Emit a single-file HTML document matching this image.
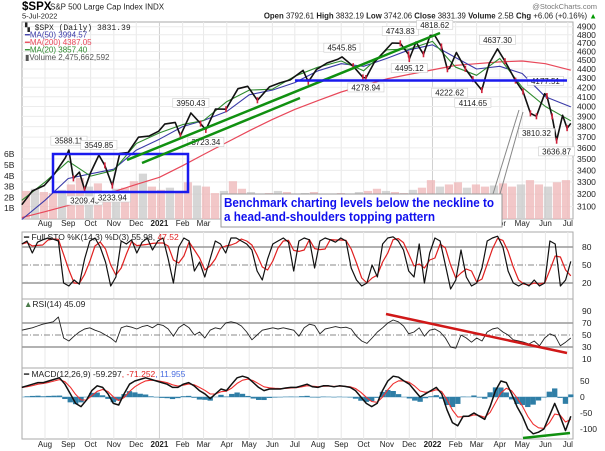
<!DOCTYPE html>
<html><head><meta charset="utf-8"><style>
html,body{margin:0;padding:0;background:#fff;}
svg{display:block;font-family:"Liberation Sans",sans-serif;}
</style></head><body>
<svg id="c" width="605" height="451" viewBox="0 0 605 451" xmlns="http://www.w3.org/2000/svg">
<rect x="0" y="0" width="605" height="451" fill="#fff"/>
<g>
<text x="22" y="10" font-size="11.5" font-weight="bold" fill="#000">$SPX</text>
<text x="50" y="9.5" font-size="8" fill="#222">S&amp;P 500 Large Cap Index  INDX</text>
<text x="22" y="18.5" font-size="7.5" fill="#222">5-Jul-2022</text>
<text x="597" y="9" font-size="7.5" fill="#777" text-anchor="end">@StockCharts.com</text>
<text x="597" y="18.5" font-size="7.8" fill="#222" text-anchor="end"><tspan font-weight="bold">Open</tspan> 3792.61  <tspan font-weight="bold">High</tspan> 3832.19  <tspan font-weight="bold">Low</tspan> 3742.06  <tspan font-weight="bold">Close</tspan> 3831.39  <tspan font-weight="bold">Volume</tspan> 2.5B  <tspan font-weight="bold">Chg</tspan> +6.06 (+0.16%) <tspan fill="#090">▲</tspan></text>
</g>
<g id="grid"></g>
<g id="vol"></g>
<g id="lines"></g>
<g id="axes"></g>
<g id="anno"></g>
</svg>
<script>
// ---------------- data ----------------
const priceDates = ["2020-07-01","2020-07-15","2020-07-31","2020-08-14","2020-08-28","2020-09-02","2020-09-08","2020-09-16","2020-09-23","2020-10-01","2020-10-12","2020-10-20","2020-10-30","2020-11-09","2020-11-20","2020-12-04","2020-12-18","2020-12-31","2021-01-08","2021-01-22","2021-01-29","2021-02-12","2021-02-25","2021-03-04","2021-03-17","2021-03-31","2021-04-16","2021-04-29","2021-05-12","2021-05-28","2021-06-11","2021-06-25","2021-07-12","2021-07-19","2021-07-30","2021-08-13","2021-08-27","2021-09-02","2021-09-17","2021-09-30","2021-10-04","2021-10-15","2021-10-29","2021-11-08","2021-11-19","2021-11-30","2021-12-01","2021-12-10","2021-12-20","2021-12-29","2022-01-04","2022-01-13","2022-01-21","2022-01-24","2022-02-02","2022-02-14","2022-02-24","2022-03-08","2022-03-18","2022-03-29","2022-04-08","2022-04-22","2022-05-02","2022-05-12","2022-05-20","2022-05-31","2022-06-03","2022-06-10","2022-06-16","2022-06-24","2022-06-30","2022-07-05"];
const priceClose = [3115,3226,3271,3372,3508,3580,3331,3385,3237,3380,3534,3443,3270,3550,3557,3699,3709,3756,3824,3841,3714,3934,3829,3768,3974,3972,4185,4211,4063,4204,4247,4280,4384,4258,4395,4468,4509,4537,4432,4307,4300,4471,4605,4701,4697,4567,4513,4712,4568,4793,4793,4659,4397,4410,4589,4401,4288,4170,4463,4631,4488,4272,4155,3930,3901,4132,4108,3900,3666,3911,3785,3831];
const maDates = ["2020-07-01","2020-08-01","2020-09-01","2020-10-01","2020-11-01","2020-12-01","2021-01-01","2021-02-01","2021-03-01","2021-04-01","2021-05-01","2021-06-01","2021-07-01","2021-08-01","2021-09-01","2021-10-01","2021-11-01","2021-12-01","2022-01-01","2022-02-01","2022-03-01","2022-04-01","2022-05-01","2022-06-01","2022-07-05"];
const ma200 = [3015,3060,3110,3150,3220,3280,3340,3440,3540,3650,3760,3870,3970,4060,4150,4220,4290,4340,4390,4440,4460,4480,4490,4460,4387];
const ma50 = [3000,3150,3330,3370,3410,3580,3680,3800,3860,3950,4120,4170,4250,4380,4460,4430,4520,4620,4680,4530,4400,4430,4350,4100,3995];
const ma20 = [3150,3300,3480,3350,3400,3640,3740,3820,3860,4050,4170,4180,4320,4420,4490,4380,4620,4630,4720,4420,4330,4520,4200,4000,3857];
const volumeB = [2.6,2.8,2.5,2.4,2.7,3.2,3.8,3.0,3.3,2.6,2.8,2.9,3.5,4.2,3.0,2.7,2.9,2.6,3.4,3.1,3.0,2.4,2.6,3.5,2.8,2.5,2.3,2.4,2.6,2.5,2.3,2.4,2.5,2.2,2.3,2.4,2.3,2.5,2.6,2.8,2.6,2.5,2.4,2.7,2.9,3.6,3.0,3.2,3.4,2.9,3.2,3.0,3.1,3.3,3.0,3.2,3.6,3.2,3.0,3.4,3.6];
const stochK = [85,90,70,88,92,95,93,90,20,15,25,18,60,90,95,80,55,15,30,90,85,92,70,88,95,75,90,95,60,20,80,95,90,40,55,30,60,90,85,70,95,95,90,85,75,40,25,60,85,90,95,88,40,90,95,92,45,90,95,92,88,95,90,45,25,15,20,50,30,85,95,97,90,75,40,30,85,20,70,95,90,50,10,25,75,30,15,20,45,90,95,98,80,40,20,15,20,15,25,15,20,90,85,15,25,56];
const rsi = [58,60,62,65,68,70,72,80,45,40,48,55,60,62,58,55,50,45,38,62,65,63,60,64,66,62,68,66,60,48,62,68,62,50,55,45,58,62,60,70,72,70,65,55,42,50,58,60,62,60,62,60,58,48,62,68,66,52,60,62,64,62,63,60,48,40,36,45,55,62,70,75,72,65,52,55,62,48,58,60,55,45,30,28,50,45,38,45,40,55,60,62,55,50,42,40,38,35,40,32,45,52,48,32,38,45];
const macd = [30,35,40,45,45,50,55,60,40,10,-20,-30,-10,20,35,30,10,-20,-25,10,40,50,55,60,55,50,45,40,30,30,40,45,35,20,10,-5,10,25,20,40,60,65,60,45,30,20,25,25,25,28,30,30,35,40,32,30,35,35,32,35,33,30,20,0,-20,-30,-20,20,50,65,62,50,40,20,0,10,20,30,10,-40,-80,-90,-60,-60,-50,-60,-70,-30,20,50,45,10,-30,-60,-100,-115,-110,-100,-60,-20,-60,-105,-60];
const yTicksPrice = [3100,3200,3300,3400,3500,3600,3700,3800,3900,4000,4100,4200,4300,4400,4500,4600,4700,4800,4900];
const yTicksVol = [1,2,3,4,5,6];
const monthLabels = ["Aug","Sep","Oct","Nov","Dec","2021","Feb","Mar","Apr","May","Jun","Jul","Aug","Sep","Oct","Nov","Dec","2022","Feb","Mar","Apr","May","Jun","Jul"];
const monthStarts = ["2020-08-01","2020-09-01","2020-10-01","2020-11-01","2020-12-01","2021-01-01","2021-02-01","2021-03-01","2021-04-01","2021-05-01","2021-06-01","2021-07-01","2021-08-01","2021-09-01","2021-10-01","2021-11-01","2021-12-01","2022-01-01","2022-02-01","2022-03-01","2022-04-01","2022-05-01","2022-06-01","2022-07-01"];
const pivotValues = ["3588.11","3549.85","3209.45","3233.94","3950.43","3723.34","4545.85","4278.94","4743.83","4818.62","4495.12","4222.62","4114.65","4637.30","4177.51","3810.32","3636.87"];
const pivotDates = ["2020-09-02","2020-10-12","2020-09-23","2020-10-30","2021-02-12","2021-03-04","2021-09-02","2021-10-04","2021-11-19","2022-01-04","2021-12-01","2022-01-24","2022-02-24","2022-03-29","2022-06-01","2022-05-20","2022-06-16"];
const pivotBelow = [0,0,1,1,0,1,0,1,0,0,1,1,1,0,0,1,1];

// ---------------- geometry ----------------
const NS="http://www.w3.org/2000/svg";
const L=22, R=573;
const base=Date.UTC(2020,6,1);
function day(s){const p=s.split("-");return (Date.UTC(+p[0],+p[1]-1,+p[2])-base)/86400000;}
function xD(d){return 45+(d-31)*0.748;}
function xS(s){return xD(day(s));}
const xStart=xS("2020-07-01"), xEnd=xS("2022-07-05");
function xIdx(i,n){return xStart+i*(xEnd-xStart)/(n-1);}
function yP(p){return 26.7+393*Math.log(4900/p);}
function yV(v){return 219-v*10.8;}
function yStoch(v){return 295-v*0.6;}
function yRsi(v){return 365-v*0.6;}
function yMacd(v){return 397-v*0.32;}
const panels=[{t:22,b:219,n:"price-panel"},{t:232,b:299,n:"stochastic-panel"},{t:299,b:368,n:"rsi-panel"},{t:368,b:439,n:"macd-panel"}];
function mk(tag,attrs,parent){const e=document.createElementNS(NS,tag);for(const k in attrs)e.setAttribute(k,attrs[k]);parent.appendChild(e);return e;}
const G=document.getElementById("grid"),V=document.getElementById("vol"),LN=document.getElementById("lines"),A=document.getElementById("anno"),AX=document.getElementById("axes");

panels.forEach(p=>{
  const r=mk("rect",{x:L,y:p.t,width:R-L,height:p.b-p.t,fill:"#fff",stroke:"#aaa","stroke-width":"1"},G);
  
  
  monthStarts.forEach(ms=>{const x=xS(ms);mk("line",{x1:x,x2:x,y1:p.t,y2:p.b,stroke:ms.endsWith("01-01")?"#cfcfcf":"#e8e8e8","stroke-width":"1"},G);});
});
yTicksPrice.forEach(v=>{
  const y=yP(v);
  mk("line",{x1:L,x2:R,y1:y,y2:y,stroke:"#ececec"},G);
  const t=mk("text",{x:577,y:y+3,"font-size":"8.5",fill:"#222"},AX);t.textContent=v;
  
  
});
yTicksVol.forEach(v=>{
  const t=mk("text",{x:4,y:yV(v)+3,"font-size":"8.5",fill:"#222"},AX);t.textContent=v+"B";
  
  
});
[223,444].forEach(yy=>{
  monthLabels.forEach((m,i)=>{
    const t=mk("text",{x:xS(monthStarts[i]),y:yy+3,"font-size":"8",fill:"#222","text-anchor":"middle","font-weight":m.length===4?"bold":"normal"},AX);
    t.textContent=m;
    
    
  });
});

const vw=(xEnd-xStart)/volumeB.length;
volumeB.forEach((v,i)=>{
  const x=xStart+i*vw;
  const b=mk("rect",{x:x,y:yV(v),width:vw-0.8,height:219-yV(v),fill:i%3===1?"#c8c8c8":"#eeb4b6",opacity:"0.75"},V);
  
  
});

function path(xs,ys,stroke,w,name,parent){
  let d="";xs.forEach((x,i)=>{d+=(i?"L":"M")+x.toFixed(1)+" "+ys[i].toFixed(1);});
  const p=mk("path",{d:d,fill:"none",stroke:stroke,"stroke-width":w,"stroke-linejoin":"round"},parent||LN);
  
  
  return p;
}
const maX=maDates.map(xS);
path(maX,ma200.map(yP),"#e8485a",1.2,"ma200-line");
path(maX,ma50.map(yP),"#3a3aa8",1.1,"ma50-line");
path(maX,ma20.map(yP),"#2e8b2e",1.1,"ma20-line");
const pX=priceDates.map(xS);
path(pX,priceClose.map(yP),"#111",1.6,"price-line");
priceClose.forEach((c,i)=>{ if(i>0&&c<priceClose[i-1]){
  const m=mk("line",{x1:pX[i],x2:pX[i],y1:yP(c)-3,y2:yP(c)+3,stroke:"#d0203a","stroke-width":"1.6"},LN);
  
  
}});

const sX=stochK.map((v,i)=>xIdx(i,stochK.length));
const stochD=stochK.map((v,i)=>{const a=stochK.slice(Math.max(0,i-2),i+1);return a.reduce((s,q)=>s+q,0)/a.length;});
[80,20].forEach(v=>mk("line",{x1:L,x2:R,y1:yStoch(v),y2:yStoch(v),stroke:"#999","stroke-width":"1.4"},G));
mk("line",{x1:L,x2:R,y1:yStoch(50),y2:yStoch(50),stroke:"#888","stroke-dasharray":"6 2 1 2"},G);
path(sX,stochD.map(yStoch),"#e02020",1.2,"stoch-d-line");
path(sX,stochK.map(yStoch),"#111",1.2,"stoch-k-line");
[80,50,20].forEach(v=>{const t=mk("text",{x:582,y:yStoch(v)+3,"font-size":"8.5",fill:"#222"},AX);t.textContent=v;
  
  });

const rX=rsi.map((v,i)=>xIdx(i,rsi.length));
[70,30].forEach(v=>mk("line",{x1:L,x2:R,y1:yRsi(v),y2:yRsi(v),stroke:"#999","stroke-width":"1.4"},G));
mk("line",{x1:L,x2:R,y1:yRsi(50),y2:yRsi(50),stroke:"#888","stroke-dasharray":"6 2 1 2"},G);
path(rX,rsi.map(yRsi),"#222",0.9,"rsi-line");
[90,70,50,30,10].forEach(v=>{const t=mk("text",{x:582,y:yRsi(v)+3,"font-size":"8.5",fill:"#222"},AX);t.textContent=v;
  
  });

const mX=macd.map((v,i)=>xIdx(i,macd.length));
const signal=[];macd.forEach((v,i)=>signal.push(i?signal[i-1]*0.55+v*0.45:v));
mk("line",{x1:L,x2:R,y1:yMacd(0),y2:yMacd(0),stroke:"#9cc3d8","stroke-width":"1"},G);
const hw=(xEnd-xStart)/macd.length;
macd.forEach((v,i)=>{const h=(v-signal[i])*0.8;const y0=yMacd(0),y1=yMacd(h);
  const b=mk("rect",{x:mX[i]-hw/2,y:Math.min(y0,y1),width:hw,height:Math.abs(y1-y0),fill:"#2f7ea6"},LN);
  
  });
path(mX,signal.map(yMacd),"#f03030",1.1,"macd-signal-line");
path(mX,macd.map(yMacd),"#111",1.5,"macd-line");
[50,0,-50,-100].forEach(v=>{const t=mk("text",{x:580,y:yMacd(v)+3,"font-size":"8.5",fill:"#222"},AX);t.textContent=v;
  
  });

pivotValues.forEach((s,i)=>{
  const x=xS(pivotDates[i]);const y=yP(parseFloat(s))+(pivotBelow[i]?9:-7);
  const w=s.length*4.6+4;
  const r=mk("rect",{x:x-w/2,y:y-6,width:w,height:9,fill:"#fff",stroke:"#ccc","stroke-width":"0.6"},A);
  
  
  const t=mk("text",{x:x,y:y+1.5,"font-size":"8","text-anchor":"middle",fill:"#222"},A);t.textContent=s;
  
  
});

const ann=`
<g font-size="8">
<text x="25" y="30" fill="#222" font-family="Liberation Mono, monospace" font-size="8">▚ $SPX (Daily) 3831.39</text>
<text x="25" y="37.5" fill="#3a3aa8">━MA(50) 3994.57</text>
<text x="25" y="45" fill="#e8485a">━MA(200) 4387.05</text>
<text x="25" y="52.5" fill="#2e8b2e">━MA(20) 3857.40</text>
<text x="25" y="60" fill="#555">▮Volume 2,475,662,592</text>
</g>
<text x="24" y="240" font-size="8.5" fill="#222">━ Full STO %K(14,3) %D(3) 55.98, <tspan fill="#e02020">47.52</tspan></text>
<text x="24" y="307" font-size="8.5" fill="#222"><tspan fill="#4a7a4a">▲</tspan>RSI(14) 45.09</text>
<text x="24" y="377" font-size="8.5" fill="#222">━ MACD(12,26,9) -59.297<tspan fill="#e02020">, -71.252</tspan><tspan fill="#4a6ee0">, 11.955</tspan></text>
<rect x="53" y="154" width="135" height="38" fill="none" stroke="#1a1aee" stroke-width="2.5"/>
<line x1="127" y1="160" x2="440" y2="33" stroke="#109010" stroke-width="2.5"/>
<line x1="142" y1="163" x2="300" y2="98" stroke="#109010" stroke-width="2.5"/>
<line x1="295" y1="80.5" x2="567" y2="80.5" stroke="#1a1aee" stroke-width="2.5"/>
<line x1="493" y1="194" x2="519" y2="110" stroke="#888" stroke-width="1"/>
<line x1="500" y1="194" x2="523" y2="112" stroke="#888" stroke-width="1"/>
<rect x="221" y="194" width="281" height="33" fill="#fff" stroke="#999" stroke-width="1"/>
<text x="224" y="207" font-size="12.5" font-weight="bold" fill="#1010ee" textLength="270" lengthAdjust="spacingAndGlyphs">Benchmark charting levels below the neckline to</text>
<text x="224" y="221" font-size="12.5" font-weight="bold" fill="#1010ee" textLength="211" lengthAdjust="spacingAndGlyphs">a head-and-shoulders topping pattern</text>
<line x1="386" y1="314" x2="567" y2="353" stroke="#d01818" stroke-width="2.5"/>
<line x1="523" y1="438" x2="570" y2="433" stroke="#109010" stroke-width="2.5"/>`;
A.insertAdjacentHTML("beforeend",ann);
</script>
</body></html>
